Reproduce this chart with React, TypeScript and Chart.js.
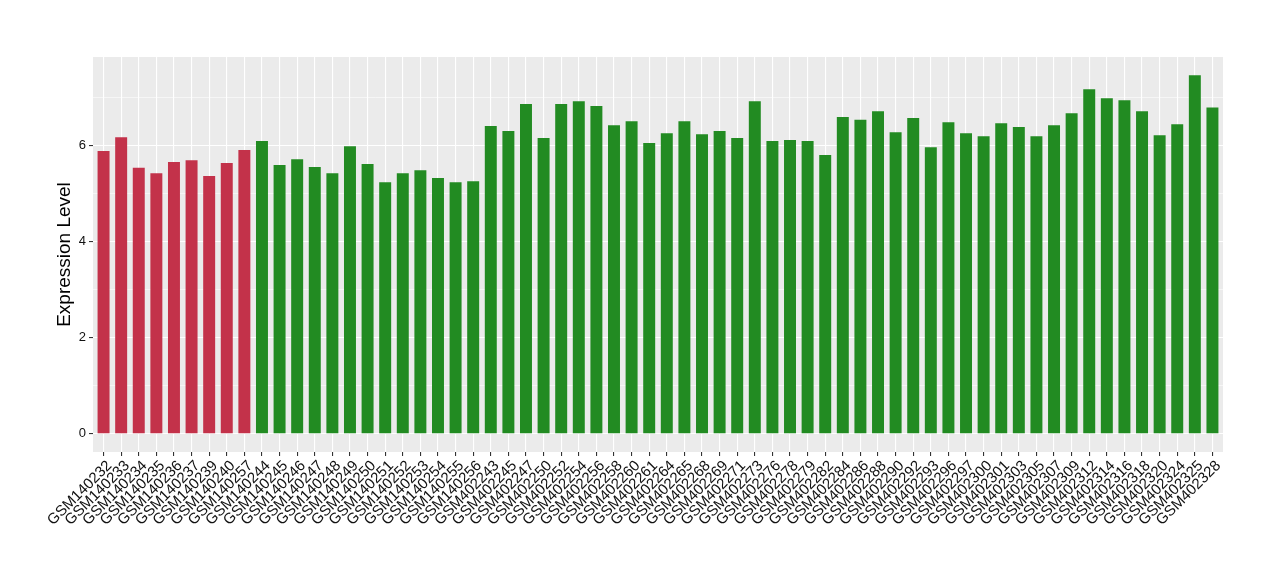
import React, { useEffect, useRef } from "react";
import { Chart, registerables } from "chart.js";

Chart.register(...registerables);

const samples: string[] = [
  "GSM140232", "GSM140233", "GSM140234", "GSM140235", "GSM140236", "GSM140237", "GSM140239", "GSM140240", "GSM140257",
  "GSM140244", "GSM140245", "GSM140246", "GSM140247", "GSM140248", "GSM140249", "GSM140250", "GSM140251", "GSM140252",
  "GSM140253", "GSM140254", "GSM140255", "GSM140256",
  "GSM402243", "GSM402245", "GSM402247", "GSM402250", "GSM402252", "GSM402254", "GSM402256", "GSM402258", "GSM402260",
  "GSM402261", "GSM402264", "GSM402265", "GSM402268", "GSM402269", "GSM402271", "GSM402273", "GSM402276", "GSM402278",
  "GSM402279", "GSM402282", "GSM402284", "GSM402286", "GSM402288", "GSM402290", "GSM402292", "GSM402293", "GSM402296",
  "GSM402297", "GSM402300", "GSM402301", "GSM402303", "GSM402305", "GSM402307", "GSM402309", "GSM402312", "GSM402314",
  "GSM402316", "GSM402318", "GSM402320", "GSM402324", "GSM402325", "GSM402328",
];

const values: number[] = [
  5.89, 6.18, 5.54, 5.43, 5.66, 5.70, 5.37, 5.64, 5.91,
  6.10, 5.60, 5.72, 5.56, 5.43, 5.99, 5.62, 5.24, 5.43,
  5.49, 5.33, 5.24, 5.26,
  6.41, 6.31, 6.87, 6.16, 6.87, 6.93, 6.83, 6.43, 6.51,
  6.06, 6.26, 6.51, 6.24, 6.31, 6.16, 6.93, 6.10, 6.12,
  6.10, 5.81, 6.60, 6.54, 6.72, 6.28, 6.58, 5.97, 6.49,
  6.26, 6.20, 6.47, 6.39, 6.20, 6.43, 6.68, 7.18, 6.99,
  6.95, 6.72, 6.22, 6.45, 7.47, 6.80,
];

const groupSizes: number[] = [9, 55];
const groupColors: string[] = ["#C3324A", "#228B22"];

const yTicks: number[] = [0, 1, 2, 3, 4, 5, 6, 7];

export default function App() {
  const ref = useRef<HTMLCanvasElement | null>(null);

  useEffect(() => {
    if (!ref.current) return;
    const colors: string[] = [];
    groupSizes.forEach((n, g) => {
      for (let i = 0; i < n; i++) colors.push(groupColors[g]);
    });
    const bgPlugin = {
      id: "panelBg",
      beforeDraw(chart: any) {
        const { ctx, chartArea } = chart;
        ctx.save();
        ctx.fillStyle = "#EBEBEB";
        ctx.fillRect(chartArea.left, chartArea.top, chartArea.right - chartArea.left, chartArea.bottom - chartArea.top);
        ctx.restore();
      },
    };
    const family = "'Liberation Sans', Arial, sans-serif";
    const chart = new Chart(ref.current, {
      type: "bar",
      data: {
        datasets: [
          {
            data: values.map((v, i) => ({ x: i, y: v })),
            backgroundColor: colors,
            borderWidth: 0,
            barPercentage: 0.68,
            categoryPercentage: 1,
          },
        ],
      },
      options: {
        responsive: false,
        animation: false,
        layout: { padding: { top: 57, right: 57, left: 0, bottom: 0 } },
        plugins: { legend: { display: false }, tooltip: { enabled: false } },
        scales: {
          x: {
            type: "linear",
            offset: false,
            min: -0.6,
            max: samples.length - 1 + 0.6,
            afterBuildTicks(scale: any) {
              scale.ticks = samples.map((_, i) => ({ value: i }));
            },
            afterFit(scale: any) {
              scale.height = 128;
            },
            ticks: {
              autoSkip: false,
              minRotation: 45,
              maxRotation: 45,
              padding: 1,
              labelOffset: 6,
              color: "#111111",
              font: { family, size: 15 },
              callback: (v: any) => samples[Math.round(Number(v))] ?? "",
            },
            grid: {
              offset: false,
              color: "#FFFFFF",
              lineWidth: 1.1,
              tickColor: "#333333",
              tickLength: 4,
            },
            border: { display: false },
          },
          y: {
            type: "linear",
            min: -0.38,
            max: 7.85,
            afterBuildTicks(scale: any) {
              scale.ticks = yTicks.map((v) => ({ value: v }));
            },
            afterFit(scale: any) {
              scale.width = 93;
            },
            ticks: {
              color: "#111111",
              font: { family, size: 13 },
              padding: 3,
              callback: (v: any) => (Number(v) % 2 === 0 ? String(v) : ""),
            },
            grid: {
              color: "#FFFFFF",
              lineWidth: (ctx: any) => (ctx.tick && ctx.tick.value % 2 === 0 ? 1.1 : 0.55),
              tickColor: (ctx: any) => (ctx.tick && ctx.tick.value % 2 === 0 ? "#333333" : "rgba(0,0,0,0)"),
              tickLength: 4,
            },
            border: { display: false },
            title: {
              display: true,
              text: "Expression Level",
              color: "#000000",
              font: { family, size: 19 },
              padding: { top: 53, bottom: 0 },
            },
          },
        },
      },
      plugins: [bgPlugin],
    } as any);
    return () => chart.destroy();
  }, []);

  return (
    <div style={{ position: "fixed", left: 0, top: 0, width: 1280, height: 580, background: "#FFFFFF" }}>
      <canvas ref={ref} width={1280} height={580} style={{ display: "block" }} />
    </div>
  );
}
